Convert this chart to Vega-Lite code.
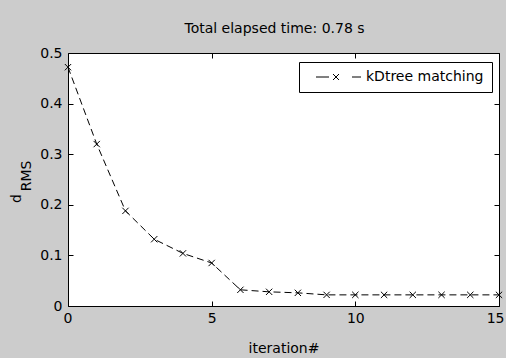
{
  "$schema": "https://vega.github.io/schema/vega-lite/v6.json",
  "width": 431,
  "height": 253,
  "autosize": {"type": "none"},
  "padding": {"left": 68, "top": 53, "right": 7, "bottom": 52},
  "background": "#cccccc",
  "title": {
    "text": "Total elapsed time: 0.78 s",
    "font": "DejaVu Sans",
    "fontSize": 14,
    "fontWeight": "normal",
    "color": "#000000",
    "anchor": "middle",
    "baseline": "alphabetic",
    "offset": -1,
    "dx": -9
  },
  "data": {
    "values": [
      {"iteration": 0, "dRMS": 0.472, "series": "kDtree matching"},
      {"iteration": 1, "dRMS": 0.32, "series": "kDtree matching"},
      {"iteration": 2, "dRMS": 0.188, "series": "kDtree matching"},
      {"iteration": 3, "dRMS": 0.132, "series": "kDtree matching"},
      {"iteration": 4, "dRMS": 0.104, "series": "kDtree matching"},
      {"iteration": 5, "dRMS": 0.085, "series": "kDtree matching"},
      {"iteration": 6, "dRMS": 0.032, "series": "kDtree matching"},
      {"iteration": 7, "dRMS": 0.028, "series": "kDtree matching"},
      {"iteration": 8, "dRMS": 0.026, "series": "kDtree matching"},
      {"iteration": 9, "dRMS": 0.022, "series": "kDtree matching"},
      {"iteration": 10, "dRMS": 0.022, "series": "kDtree matching"},
      {"iteration": 11, "dRMS": 0.022, "series": "kDtree matching"},
      {"iteration": 12, "dRMS": 0.022, "series": "kDtree matching"},
      {"iteration": 13, "dRMS": 0.022, "series": "kDtree matching"},
      {"iteration": 14, "dRMS": 0.022, "series": "kDtree matching"},
      {"iteration": 15, "dRMS": 0.022, "series": "kDtree matching"}
    ]
  },
  "layer": [
    {
      "mark": {"type": "line", "color": "#000000", "strokeWidth": 1, "strokeDash": [7, 4]},
      "encoding": {
        "x": {
          "field": "iteration", "type": "quantitative",
          "scale": {"domain": [0, 15], "nice": false, "zero": false},
          "axis": {
            "orient": "bottom", "values": [0, 5, 10, 15], "format": "d",
            "title": "iteration#", "titleBaseline": "alphabetic", "titleY": 46.5,
            "labelPadding": 10, "labelFlush": true, "labelFlushOffset": 5
          }
        },
        "y": {
          "field": "dRMS", "type": "quantitative",
          "scale": {"domain": [0, 0.5], "nice": false},
          "axis": {
            "orient": "left", "values": [0, 0.1, 0.2, 0.3, 0.4, 0.5], "format": "~g",
            "title": "d", "titleAngle": 270, "titleX": -48, "titleY": 145,
            "titleBaseline": "alphabetic", "titleAlign": "center",
            "labelPadding": 11, "labelFlush": false
          }
        }
      }
    },
    {
      "mark": {"type": "point", "shape": "M-1,-1L1,1M-1,1L1,-1", "filled": false, "size": 40, "strokeWidth": 1, "opacity": 1},
      "encoding": {
        "x": {
          "field": "iteration", "type": "quantitative",
          "axis": {"orient": "top", "values": [0, 5, 10, 15], "labels": false, "title": null}
        },
        "y": {
          "field": "dRMS", "type": "quantitative",
          "axis": {
            "orient": "right", "values": [0, 0.1, 0.2, 0.3, 0.4, 0.5], "labels": false,
            "title": "RMS", "titleAngle": 270, "titleX": -469, "titleY": 122.5,
            "titleBaseline": "alphabetic", "titleAlign": "center"
          }
        },
        "color": {
          "field": "series", "type": "nominal",
          "scale": {"range": ["#000000"]},
          "legend": {
            "title": null,
            "orient": "none", "legendX": 231, "legendY": 9,
            "padding": 8, "strokeColor": "#000000", "fillColor": "#ffffff", "cornerRadius": 0,
            "symbolType": "M0.4,0H3.0M3.8,-0.6L5,0.6M3.8,0.6L5,-0.6M7.6,0H9.4",
            "symbolSize": 100, "symbolStrokeWidth": 1, "symbolStrokeColor": "#000000",
            "symbolFillColor": "transparent", "symbolOpacity": 1,
            "labelOffset": 45, "labelFont": "DejaVu Sans", "labelFontSize": 14, "labelColor": "#000000"
          }
        }
      }
    }
  ],
  "resolve": {"axis": {"x": "independent", "y": "independent"}},
  "config": {
    "view": {"fill": "#ffffff", "stroke": null},
    "axis": {
      "grid": false,
      "domainColor": "#000000",
      "domainWidth": 1,
      "tickColor": "#000000",
      "tickSize": -5,
      "tickWidth": 1,
      "labelColor": "#000000",
      "labelFont": "DejaVu Sans",
      "labelFontSize": 14,
      "titleColor": "#000000",
      "titleFont": "DejaVu Sans",
      "titleFontSize": 14,
      "titleFontWeight": "normal"
    }
  }
}
